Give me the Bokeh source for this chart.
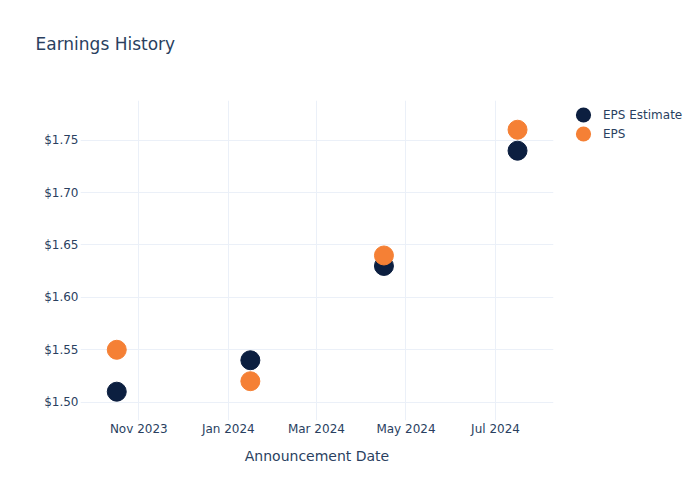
import pandas as pd
from bokeh.plotting import figure
from bokeh.models import (ColumnDataSource, Range1d, FixedTicker, DatetimeTickFormatter,
                          NumeralTickFormatter, Legend, LegendItem, Title)
from bokeh.embed import file_html
from bokeh.resources import INLINE

# ---- data ----
dates = ["2023-10-17", "2024-01-16", "2024-04-16", "2024-07-16"]
eps_estimate = [1.51, 1.54, 1.63, 1.74]
eps_actual = [1.55, 1.52, 1.64, 1.76]
x_tick_dates = ["2023-11-01", "2024-01-01", "2024-03-01", "2024-05-01", "2024-07-01"]
y_ticks = [1.50, 1.55, 1.60, 1.65, 1.70, 1.75]
series_names = ["EPS Estimate", "EPS"]

TEXT = "#2a3f5f"
GRID = "#ebf0f8"
NAVY = "#0c1f40"
ORANGE = "#f58035"
FONT = "DejaVu Sans"

dt = pd.to_datetime(dates)
src = ColumnDataSource(dict(date=dt, est=eps_estimate, act=eps_actual))

anchor = pd.Timestamp("2023-11-01")
x_start = anchor - pd.Timedelta(days=39.7)
x_end = anchor + pd.Timedelta(days=282.5)

p = figure(frame_width=473, frame_height=320, output_backend="svg", toolbar_location=None,
           x_axis_type="datetime",
           x_range=Range1d(x_start, x_end), y_range=Range1d(1.4825, 1.7879),
           min_border_left=80, min_border_right=147, min_border_top=100, min_border_bottom=80)
p.outline_line_color = None
p.background_fill_color = "white"
p.border_fill_color = "white"

# small circles hidden under each marker; they supply round legend swatches
leg_est = p.ellipse(x="date", y="est", width=16, height=16, width_units="screen",
                    height_units="screen", source=src, fill_color=NAVY, line_color=None)
leg_act = p.ellipse(x="date", y="act", width=16, height=16, width_units="screen",
                    height_units="screen", source=src, fill_color=ORANGE, line_color=None)

r_est = p.scatter("date", "est", source=src, size=19, color=NAVY, line_color=NAVY)
r_act = p.scatter("date", "act", source=src, size=19, color=ORANGE, line_color=ORANGE)

tick_ms = [pd.Timestamp(d).value / 1e6 for d in x_tick_dates]
xa = p.xaxis[0]
xa.ticker = FixedTicker(ticks=tick_ms)
xa.formatter = DatetimeTickFormatter(days="%b %Y", months="%b %Y", years="%b %Y")
xa.axis_label = "Announcement Date"

ya = p.yaxis[0]
ya.ticker = FixedTicker(ticks=y_ticks)
ya.formatter = NumeralTickFormatter(format="$0.00")

for ax in (xa, ya):
    ax.axis_line_color = None
    ax.major_tick_line_color = None
    ax.minor_tick_line_color = None
    ax.major_tick_out = 0
    ax.major_tick_in = 0
    ax.minor_tick_out = 0
    ax.minor_tick_in = 0
    ax.major_label_text_color = TEXT
    ax.major_label_text_font = FONT
    ax.major_label_text_font_size = "12px"
    ax.axis_label_text_color = TEXT
    ax.axis_label_text_font = FONT
    ax.axis_label_text_font_size = "14px"
    ax.axis_label_text_font_style = "normal"
xa.major_label_standoff = 1
xa.axis_label_standoff = 9
ya.major_label_standoff = 2

p.xgrid.grid_line_color = GRID
p.ygrid.grid_line_color = GRID

p.add_layout(Title(text=" ", text_font_size="27px"), "above")
p.title.text = "Earnings History"
p.title.text_font = FONT
p.title.text_font_size = "17px"
p.title.text_font_style = "normal"
p.title.text_color = TEXT
p.title.align = "left"
p.title.offset = -45

legend = Legend(items=[LegendItem(label=series_names[0], renderers=[leg_est]),
                       LegendItem(label=series_names[1], renderers=[leg_act])],
                location=(20, 277), orientation="vertical",
                glyph_width=20, glyph_height=19, label_height=19, spacing=0,
                padding=0, margin=0, label_standoff=10,
                label_text_font=FONT, label_text_font_size="12px",
                label_text_color=TEXT, background_fill_alpha=0, border_line_alpha=0)
p.add_layout(legend, "right")

open("out.html", "w").write(file_html(p, INLINE))
